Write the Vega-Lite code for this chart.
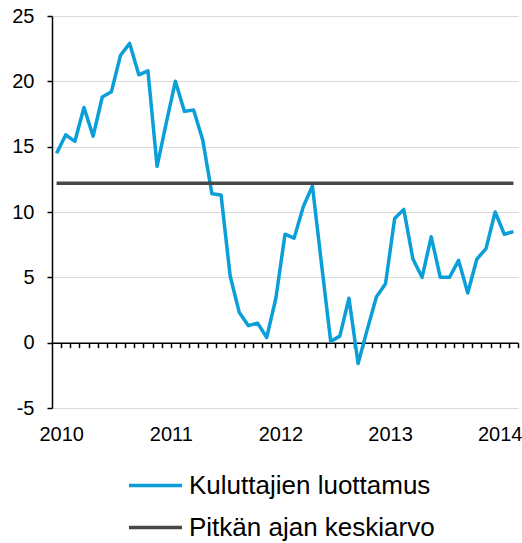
{
  "$schema": "https://vega.github.io/schema/vega-lite/v6.json",
  "width": 466,
  "height": 392,
  "autosize": {"type": "none"},
  "padding": {"left": 52, "top": 16, "right": 4, "bottom": 135},
  "background": "white",
  "config": {"view": {"stroke": null}, "font": "Liberation Sans"},
  "data": {"values": [
    {"kuukausi": "2010-01", "Kuluttajien luottamus": 14.5, "Pitkän ajan keskiarvo": 12.2},
    {"kuukausi": "2010-02", "Kuluttajien luottamus": 15.9, "Pitkän ajan keskiarvo": 12.2},
    {"kuukausi": "2010-03", "Kuluttajien luottamus": 15.4, "Pitkän ajan keskiarvo": 12.2},
    {"kuukausi": "2010-04", "Kuluttajien luottamus": 18.0, "Pitkän ajan keskiarvo": 12.2},
    {"kuukausi": "2010-05", "Kuluttajien luottamus": 15.8, "Pitkän ajan keskiarvo": 12.2},
    {"kuukausi": "2010-06", "Kuluttajien luottamus": 18.8, "Pitkän ajan keskiarvo": 12.2},
    {"kuukausi": "2010-07", "Kuluttajien luottamus": 19.2, "Pitkän ajan keskiarvo": 12.2},
    {"kuukausi": "2010-08", "Kuluttajien luottamus": 22.0, "Pitkän ajan keskiarvo": 12.2},
    {"kuukausi": "2010-09", "Kuluttajien luottamus": 22.9, "Pitkän ajan keskiarvo": 12.2},
    {"kuukausi": "2010-10", "Kuluttajien luottamus": 20.5, "Pitkän ajan keskiarvo": 12.2},
    {"kuukausi": "2010-11", "Kuluttajien luottamus": 20.8, "Pitkän ajan keskiarvo": 12.2},
    {"kuukausi": "2010-12", "Kuluttajien luottamus": 13.5, "Pitkän ajan keskiarvo": 12.2},
    {"kuukausi": "2011-01", "Kuluttajien luottamus": 16.8, "Pitkän ajan keskiarvo": 12.2},
    {"kuukausi": "2011-02", "Kuluttajien luottamus": 20.0, "Pitkän ajan keskiarvo": 12.2},
    {"kuukausi": "2011-03", "Kuluttajien luottamus": 17.7, "Pitkän ajan keskiarvo": 12.2},
    {"kuukausi": "2011-04", "Kuluttajien luottamus": 17.8, "Pitkän ajan keskiarvo": 12.2},
    {"kuukausi": "2011-05", "Kuluttajien luottamus": 15.5, "Pitkän ajan keskiarvo": 12.2},
    {"kuukausi": "2011-06", "Kuluttajien luottamus": 11.4, "Pitkän ajan keskiarvo": 12.2},
    {"kuukausi": "2011-07", "Kuluttajien luottamus": 11.3, "Pitkän ajan keskiarvo": 12.2},
    {"kuukausi": "2011-08", "Kuluttajien luottamus": 5.1, "Pitkän ajan keskiarvo": 12.2},
    {"kuukausi": "2011-09", "Kuluttajien luottamus": 2.3, "Pitkän ajan keskiarvo": 12.2},
    {"kuukausi": "2011-10", "Kuluttajien luottamus": 1.3, "Pitkän ajan keskiarvo": 12.2},
    {"kuukausi": "2011-11", "Kuluttajien luottamus": 1.5, "Pitkän ajan keskiarvo": 12.2},
    {"kuukausi": "2011-12", "Kuluttajien luottamus": 0.4, "Pitkän ajan keskiarvo": 12.2},
    {"kuukausi": "2012-01", "Kuluttajien luottamus": 3.4, "Pitkän ajan keskiarvo": 12.2},
    {"kuukausi": "2012-02", "Kuluttajien luottamus": 8.3, "Pitkän ajan keskiarvo": 12.2},
    {"kuukausi": "2012-03", "Kuluttajien luottamus": 8.0, "Pitkän ajan keskiarvo": 12.2},
    {"kuukausi": "2012-04", "Kuluttajien luottamus": 10.4, "Pitkän ajan keskiarvo": 12.2},
    {"kuukausi": "2012-05", "Kuluttajien luottamus": 12.0, "Pitkän ajan keskiarvo": 12.2},
    {"kuukausi": "2012-06", "Kuluttajien luottamus": 6.0, "Pitkän ajan keskiarvo": 12.2},
    {"kuukausi": "2012-07", "Kuluttajien luottamus": 0.1, "Pitkän ajan keskiarvo": 12.2},
    {"kuukausi": "2012-08", "Kuluttajien luottamus": 0.5, "Pitkän ajan keskiarvo": 12.2},
    {"kuukausi": "2012-09", "Kuluttajien luottamus": 3.4, "Pitkän ajan keskiarvo": 12.2},
    {"kuukausi": "2012-10", "Kuluttajien luottamus": -1.6, "Pitkän ajan keskiarvo": 12.2},
    {"kuukausi": "2012-11", "Kuluttajien luottamus": 1.0, "Pitkän ajan keskiarvo": 12.2},
    {"kuukausi": "2012-12", "Kuluttajien luottamus": 3.5, "Pitkän ajan keskiarvo": 12.2},
    {"kuukausi": "2013-01", "Kuluttajien luottamus": 4.5, "Pitkän ajan keskiarvo": 12.2},
    {"kuukausi": "2013-02", "Kuluttajien luottamus": 9.5, "Pitkän ajan keskiarvo": 12.2},
    {"kuukausi": "2013-03", "Kuluttajien luottamus": 10.2, "Pitkän ajan keskiarvo": 12.2},
    {"kuukausi": "2013-04", "Kuluttajien luottamus": 6.4, "Pitkän ajan keskiarvo": 12.2},
    {"kuukausi": "2013-05", "Kuluttajien luottamus": 5.0, "Pitkän ajan keskiarvo": 12.2},
    {"kuukausi": "2013-06", "Kuluttajien luottamus": 8.1, "Pitkän ajan keskiarvo": 12.2},
    {"kuukausi": "2013-07", "Kuluttajien luottamus": 5.0, "Pitkän ajan keskiarvo": 12.2},
    {"kuukausi": "2013-08", "Kuluttajien luottamus": 5.0, "Pitkän ajan keskiarvo": 12.2},
    {"kuukausi": "2013-09", "Kuluttajien luottamus": 6.3, "Pitkän ajan keskiarvo": 12.2},
    {"kuukausi": "2013-10", "Kuluttajien luottamus": 3.8, "Pitkän ajan keskiarvo": 12.2},
    {"kuukausi": "2013-11", "Kuluttajien luottamus": 6.4, "Pitkän ajan keskiarvo": 12.2},
    {"kuukausi": "2013-12", "Kuluttajien luottamus": 7.2, "Pitkän ajan keskiarvo": 12.2},
    {"kuukausi": "2014-01", "Kuluttajien luottamus": 10.0, "Pitkän ajan keskiarvo": 12.2},
    {"kuukausi": "2014-02", "Kuluttajien luottamus": 8.3, "Pitkän ajan keskiarvo": 12.2},
    {"kuukausi": "2014-03", "Kuluttajien luottamus": 8.5, "Pitkän ajan keskiarvo": 12.2}
  ]},
  "transform": [
    {"fold": ["Kuluttajien luottamus", "Pitkän ajan keskiarvo"], "as": ["sarja", "arvo"]}
  ],
  "mark": {"type": "line", "strokeWidth": 3.5, "strokeJoin": "round"},
  "encoding": {
    "x": {
      "field": "kuukausi",
      "type": "ordinal",
      "scale": {"type": "point", "padding": 0.5},
      "axis": {
        "title": null,
        "offset": -65.33,
        "domainColor": "black",
        "domainWidth": 1.5,
        "tickColor": "black",
        "tickWidth": 1.5,
        "tickSize": 5,
        "tickOffset": 4.57,
        "labelExpr": "slice(datum.label, 5, 7) == '01' ? slice(datum.label, 0, 4) : ''",
        "labelOverlap": false,
        "labelFlush": false,
        "labelAngle": 0,
        "labelFontSize": 20,
        "labelColor": "black",
        "labelPadding": 77,
        "grid": false
      }
    },
    "y": {
      "field": "arvo",
      "type": "quantitative",
      "scale": {"domain": [-5, 25], "nice": false, "zero": false},
      "axis": {
        "title": null,
        "values": [-5, 0, 5, 10, 15, 20, 25],
        "labelExpr": "datum.value < 0 ? '-' + abs(datum.value) : '' + datum.value",
        "grid": true,
        "gridColor": "#d9d9d9",
        "gridWidth": 1,
        "domainColor": "black",
        "domainWidth": 1.5,
        "tickColor": "black",
        "tickWidth": 1.5,
        "tickSize": 5,
        "labelFontSize": 20,
        "labelColor": "black",
        "labelPadding": 13
      }
    },
    "color": {
      "field": "sarja",
      "type": "nominal",
      "scale": {"domain": ["Kuluttajien luottamus", "Pitkän ajan keskiarvo"], "range": ["#0a9fd8", "#474747"]},
      "legend": {
        "title": null,
        "orient": "none",
        "legendX": 75,
        "legendY": 441,
        "direction": "vertical",
        "symbolType": "stroke",
        "symbolSize": 2809,
        "symbolStrokeWidth": 3.5,
        "labelFontSize": 26,
        "labelColor": "black",
        "labelOffset": 5,
        "labelLimit": 0,
        "rowPadding": -10
      }
    }
  }
}
